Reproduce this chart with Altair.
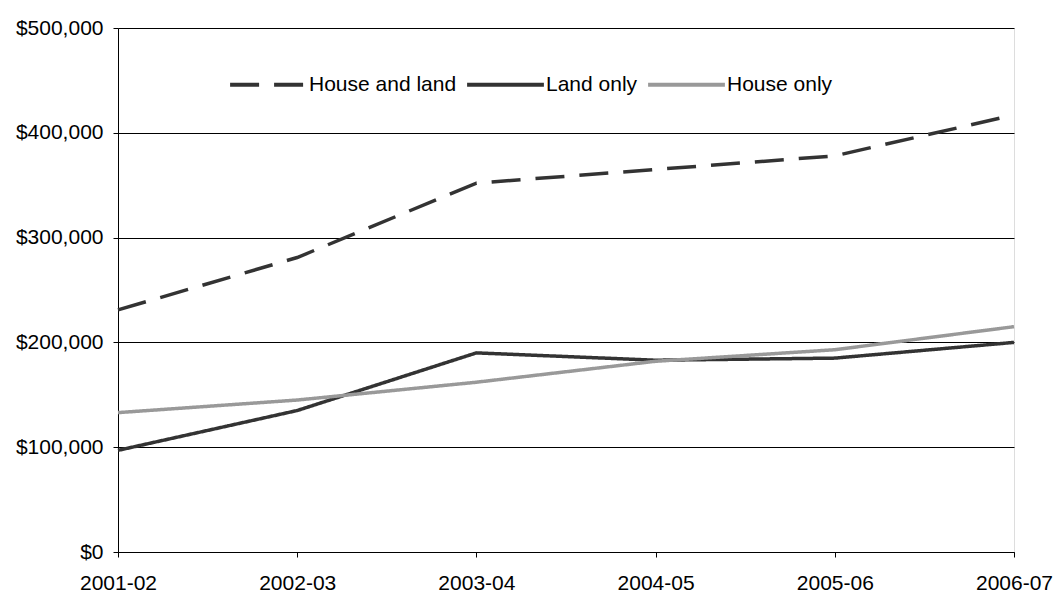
import altair as alt
import pandas as pd

# Financial years on the x axis
years = ["2001-02", "2002-03", "2003-04", "2004-05", "2005-06", "2006-07"]

# Median prices per series
house_and_land = [231000, 281000, 352000, 365000, 378000, 417000]
land_only = [97000, 135000, 190000, 183000, 185000, 200000]
house_only = [133000, 145000, 162000, 182000, 193000, 215000]

series_names = ["House and land", "Land only", "House only"]
series_colors = ["#333333", "#333333", "#999999"]
series_dashes = [[29, 15], [1, 0], [1, 0]]

rows = []
for name, values in zip(series_names, [house_and_land, land_only, house_only]):
    for yr, v in zip(years, values):
        rows.append({"year": yr, "price": v, "series": name})
df = pd.DataFrame(rows)

font = "Liberation Sans"
fsize = 21

chart = (
    alt.Chart(df)
    .mark_line(strokeWidth=3.5, strokeCap="butt")
    .encode(
        x=alt.X(
            "year:N",
            sort=years,
            scale=alt.Scale(type="point", padding=0),
            axis=alt.Axis(
                title=None,
                labelAngle=0,
                labelFontSize=fsize,
                labelFont=font,
                labelColor="#000000",
                labelPadding=15,
                tickSize=5,
                tickColor="#000000",
                domainColor="#000000",
                grid=False,
            ),
        ),
        y=alt.Y(
            "price:Q",
            scale=alt.Scale(domain=[0, 500000], nice=False),
            axis=alt.Axis(
                title=None,
                values=[0, 100000, 200000, 300000, 400000, 500000],
                format="$,.0f",
                labelFontSize=fsize,
                labelFont=font,
                labelColor="#000000",
                labelPadding=10,
                tickSize=5,
                tickColor="#000000",
                domainColor="#000000",
                gridColor="#000000",
                gridOpacity=1,
                gridWidth=1,
            ),
        ),
        color=alt.Color(
            "series:N",
            sort=series_names,
            scale=alt.Scale(domain=series_names, range=series_colors),
            legend=alt.Legend(
                title=None,
                orient="none",
                legendX=110,
                legendY=16,
                direction="horizontal",
                symbolType="stroke",
                symbolSize=5900,
                symbolStrokeWidth=4,
                labelFontSize=fsize,
                labelFont=font,
                labelColor="#000000",
                labelOffset=0,
                columnPadding=2,
            ),
        ),
        strokeDash=alt.StrokeDash(
            "series:N",
            sort=series_names,
            scale=alt.Scale(domain=series_names, range=series_dashes),
            legend=None,
        ),
        detail="series:N",
    )
    .properties(
        width=896,
        height=524,
        autosize=alt.AutoSizeParams(type="none"),
        padding={"left": 118, "top": 28, "right": 42, "bottom": 41},
    )
    .configure_view(stroke=None)
    .configure(background="#ffffff")
)

chart.save("out.html", embed_options={"renderer": "svg", "actions": False})
